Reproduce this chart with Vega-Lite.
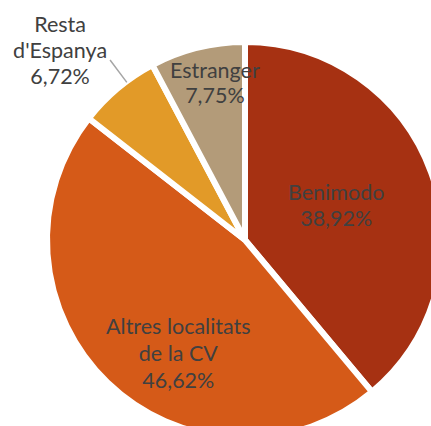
{
  "$schema": "https://vega.github.io/schema/vega-lite/v6.json",
  "autosize": "none",
  "padding": 0,
  "width": 490,
  "height": 480,
  "background": "white",
  "view": {"stroke": null},
  "data": {"values": [
    {"cat": "Benimodo", "pct": 38.92, "ord": 1, "label": "Benimodo\n38,92%"},
    {"cat": "Altres localitats de la CV", "pct": 46.62, "ord": 2, "label": "Altres localitats\nde la CV\n46,62%"},
    {"cat": "Resta d'Espanya", "pct": 6.72, "ord": 3, "label": "Resta\nd'Espanya\n6,72%"},
    {"cat": "Estranger", "pct": 7.75, "ord": 4, "label": "Estranger\n7,75%"}
  ]},
  "encoding": {
    "theta": {"field": "pct", "type": "quantitative", "stack": true},
    "order": {"field": "ord", "type": "quantitative"}
  },
  "layer": [
    {
      "mark": {"type": "arc", "radius": 198, "stroke": "white", "strokeWidth": 6, "strokeJoin": "miter"},
      "encoding": {
        "color": {"field": "cat", "type": "nominal", "legend": null,
          "scale": {"domain": ["Benimodo", "Altres localitats de la CV", "Resta d'Espanya", "Estranger"],
                    "range": ["#A63112", "#D55A18", "#E29A28", "#B39B79"]}}
      }
    },
    {
      "transform": [{"filter": "datum.ord == 3"}],
      "mark": {"type": "arc", "theta": 5.64, "theta2": 5.64, "radius": 197, "radius2": 225, "stroke": "#A6A6A6", "strokeWidth": 1.5, "fill": null},
      "encoding": {"theta": null, "order": null}
    },
    {
      "mark": {"type": "text", "radius": 97, "thetaOffset": 0, "dy": -13, "font": "Lato", "fontSize": 21.5, "color": "#404040", "lineBreak": "\n", "lineHeight": 26, "align": "center", "baseline": "middle"},
      "encoding": {"text": {"condition": {"test": "datum.ord == 1", "field": "label"}, "value": ""}}
    },
    {
      "mark": {"type": "text", "radius": 133, "thetaOffset": -0.243, "dy": -27, "font": "Lato", "fontSize": 21.5, "color": "#404040", "lineBreak": "\n", "lineHeight": 27, "align": "center", "baseline": "middle"},
      "encoding": {"text": {"condition": {"test": "datum.ord == 2", "field": "label"}, "value": ""}}
    },
    {
      "mark": {"type": "text", "radius": 264, "thetaOffset": -0.078, "dy": -26, "font": "Lato", "fontSize": 21.5, "color": "#404040", "lineBreak": "\n", "lineHeight": 26, "align": "center", "baseline": "middle"},
      "encoding": {"text": {"condition": {"test": "datum.ord == 3", "field": "label"}, "value": ""}}
    },
    {
      "mark": {"type": "text", "radius": 159, "thetaOffset": 0.053, "dy": -12, "font": "Lato", "fontSize": 21.5, "color": "#404040", "lineBreak": "\n", "lineHeight": 25, "align": "center", "baseline": "middle"},
      "encoding": {"text": {"condition": {"test": "datum.ord == 4", "field": "label"}, "value": ""}}
    }
  ]
}
